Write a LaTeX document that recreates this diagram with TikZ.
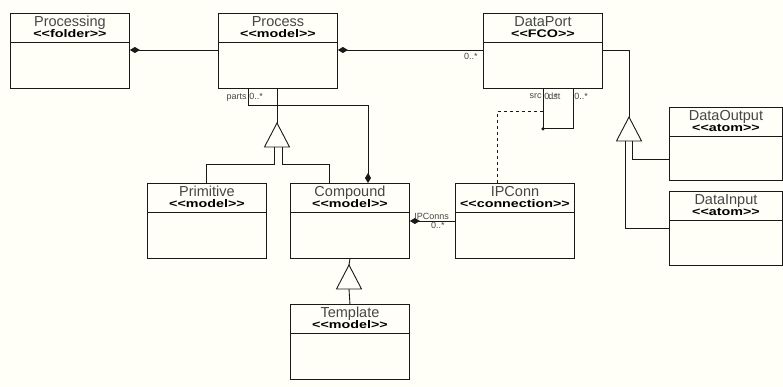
\documentclass[tikz,border=0pt]{standalone}
\usepackage{fontspec}
\setmainfont{Liberation Sans}
\newfontfamily\stereofont{Liberation Sans}[Ligatures=TeXOff]
\usetikzlibrary{arrows.meta}

\definecolor{paper}{RGB}{255,255,248}
\definecolor{ink}{RGB}{25,25,25}
\definecolor{textgray}{RGB}{70,70,70}

\tikzset{
  classbox/.style={draw=ink, line width=0.9pt, fill=paper, anchor=north west,
    inner sep=0pt, minimum width=119pt, minimum height=75pt},
  classtitle/.style={anchor=base, inner sep=0pt, text=textgray,
    font=\fontsize{14.5}{14.5}\selectfont},
  classstereo/.style={anchor=base, inner sep=0pt, text=black,
    font=\stereofont\bfseries\fontsize{11}{11}\selectfont},
  assoc/.style={draw=ink, line width=0.9pt},
  genline/.style={draw=ink, line width=0.9pt, fill=paper},
  lbl/.style={inner sep=1pt, text=textgray, font=\fontsize{9}{9}\selectfont},
  owner/.tip={Diamond[length=10pt, width=6pt]},
}

% class box: [options]{name}{top left}{title}{stereotype}
\newcommand\umlclass[5][]{%
  \node[classbox,#1] (#2) at (#3) {};
  \draw[assoc] ([yshift=-29pt]#2.north west) -- ([yshift=-29pt]#2.north east);
  \node[classtitle] at ([yshift=-13.5pt]#2.north) {#4};
  \node[classstereo] at ([yshift=-24.5pt]#2.north) {\scalebox{1.3}[1]{<<#5>>}};
}

% inheritance triangle: {name}{apex}
\newcommand\gentri[2]{%
  \coordinate (#1) at (#2);
  \draw[genline] (#1) -- ++(12.5,24) -- ++(-25,0) -- cycle;
  \coordinate (#1-b) at ([yshift=-24pt]#1);
}

\begin{document}
\begin{tikzpicture}[x=1pt, y=-1pt]
    \useasboundingbox[fill=paper] (0,0) rectangle (783,387);

    % Classes
    \umlclass{processing}{10,13}{Processing}{folder}
    \umlclass{process}{218,13}{Process}{model}
    \umlclass{dataport}{483,13}{DataPort}{FCO}
    \umlclass{primitive}{147,183}{Primitive}{model}
    \umlclass{compound}{290,183}{Compound}{model}
    \umlclass{ipconn}{455,183}{IPConn}{connection}
    \umlclass{template}{290,304}{Template}{model}
    \umlclass[minimum width=113pt, minimum height=73pt]{dataoutput}{669,107}{DataOutput}{atom}
    \umlclass[minimum width=113pt, minimum height=74pt]{datainput}{669,191}{DataInput}{atom}

    % Containment
    \draw[assoc, {owner}-] ([yshift=-37pt]processing.north east) -- ([yshift=-37pt]process.north west);
    \draw[assoc, {owner}-] ([yshift=-37pt]process.north east) -- ([yshift=-37pt]dataport.north west)
        node[lbl, anchor=north east, pos=1, xshift=-4pt, yshift=-2pt] {0..*};
    \draw[assoc, -{owner}] ([xshift=30pt]process.south west)
        node[lbl, anchor=north east, yshift=-3pt] {parts}
        node[lbl, anchor=north west, yshift=-3pt] {0..*}
        -- ++(0,17) -| ([xshift=78pt]compound.north west);
    \draw[assoc, {owner}-] ([yshift=-38pt]compound.north east) -- ([yshift=-38pt]ipconn.north west)
        node[lbl, anchor=south west, pos=0, xshift=3pt] {IPConns}
        node[lbl, anchor=north east, pos=1, xshift=-9pt] {0..*};

    % Inheritance
    \gentri{gen1}{277,123}
    \draw[assoc] (gen1) -- (gen1 |- process.south);
    \draw[assoc] ([xshift=59pt]primitive.north west) |- ([xshift=-3pt, yshift=-17pt]gen1-b) -- ([xshift=-3pt]gen1-b);
    \draw[assoc] ([xshift=39pt]compound.north west) |- ([xshift=5pt, yshift=-17pt]gen1-b) -- ([xshift=5pt]gen1-b);

    \gentri{gen2}{349,265}
    \draw[assoc] (gen2) -- (compound.south);
    \draw[assoc] (gen2-b) -- (template.north);

    \gentri{gen3}{629,117}
    \draw[assoc] ([yshift=-37pt]dataport.north east) -| (gen3);
    \draw[assoc] ([xshift=3pt]gen3-b) |- ([yshift=-52pt]dataoutput.north west);
    \draw[assoc] ([xshift=-4pt]gen3-b) |- ([yshift=-37pt]datainput.north west);

    % Port connection ends
    \draw[assoc] ([xshift=60pt]dataport.south west)
        node[lbl, anchor=north east, yshift=-3pt] {src}
        node[lbl, anchor=north west, yshift=-3pt] {0..*}
        node[lbl, anchor=north west, xshift=4pt, yshift=-3pt] {dst}
        -- ++(0,40) coordinate (portjoin) -| ([xshift=90pt]dataport.south west)
        node[lbl, anchor=north west, yshift=-3pt] {0..*};
    \fill[ink] (portjoin) circle (1.8pt);
    \draw[assoc, dashed] ([xshift=42pt]ipconn.north west) |- ([yshift=17pt]portjoin) -- (portjoin);

\end{tikzpicture}
\end{document}
